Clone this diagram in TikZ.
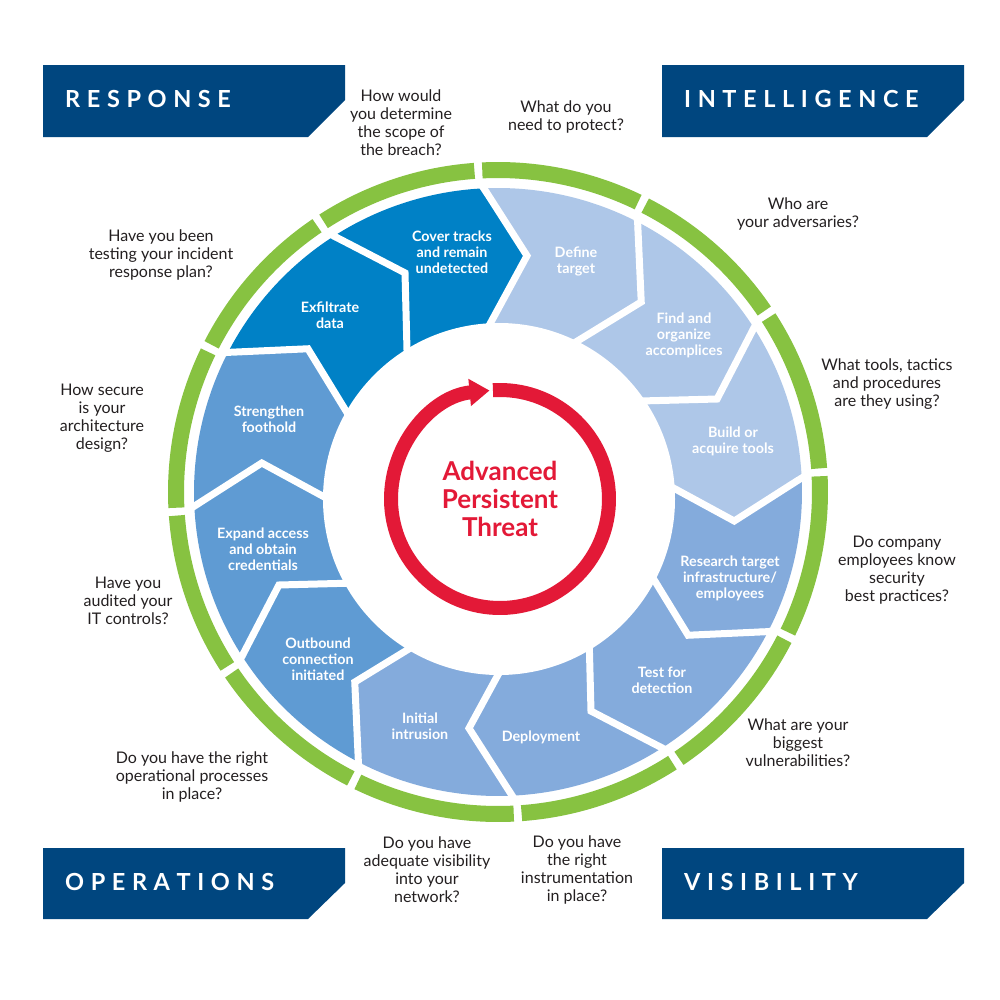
\documentclass[tikz,border=0pt]{standalone}
\usepackage{fontspec}
\setmainfont{Lato}
\usetikzlibrary{arrows.meta}
\definecolor{segA}{HTML}{AEC7E8}
\definecolor{segB}{HTML}{84ABDC}
\definecolor{segC}{HTML}{5F9BD3}
\definecolor{segD}{HTML}{0081C6}
\definecolor{ringgreen}{HTML}{87C241}
\definecolor{aptred}{HTML}{E31937}
\definecolor{bannerblue}{HTML}{00467F}
\definecolor{qgray}{HTML}{231F20}
\newcommand\K{\kern6.6bp}
\begin{document}
\begin{tikzpicture}[x=1bp,y=-1bp,
  q/.style={align=center, text=qgray, font=\fontsize{16bp}{18bp}\selectfont, inner sep=0pt},
  seglab/.style={align=center, text=white, font=\bfseries\fontsize{14.3bp}{16bp}\selectfont, inner sep=0pt},
  bannerbox/.style={fill=bannerblue},
  bantext/.style={anchor=base west, text=white, font=\bfseries\fontsize{23.5bp}{26bp}\selectfont, inner sep=0pt},
  centertext/.style={align=center, text=aptred, font=\bfseries\fontsize{26bp}{28bp}\selectfont, inner sep=0pt}]
\useasboundingbox (0,0) rectangle (1000,1000);
\fill[white] (0,0) rectangle (1000,1000);

% segments
\begin{scope}[shift={(498,492)}]
\foreach \k/\c in {0/segA,1/segA,2/segA,3/segB,4/segB,5/segB,6/segB,7/segC,8/segC,9/segC,10/segD,11/segD}{
  \pgfmathsetmacro\angA{-3.5+30*\k-90}
  \pgfmathsetmacro\angB{\angA+30}
  \fill[\c] (\angA:304) arc[start angle=\angA, end angle=\angB, radius=304]
    -- (\angB+10.5:238) -- (\angB-5:151)
    arc[start angle=\angB-5, end angle=\angA-5, radius=151]
    -- (\angA+10.5:238) -- cycle;
}
\foreach \k in {0,...,11}{
  \pgfmathsetmacro\angA{-3.5+30*\k-90}
  \draw[white, line width=7bp, line join=miter] (\angA:312) -- (\angA+10.5:238) -- (\angA-5:145);
}
\foreach \k in {0,...,11}{
  \pgfmathsetmacro\angA{-3.5+30*\k-90+0.7}
  \pgfmathsetmacro\angB{-3.5+30*\k-90+30-0.7}
  \draw[ringgreen, line width=16bp] (\angA:322) arc[start angle=\angA, end angle=\angB, radius=322];
}
\end{scope}

% inner white disc
\fill[white] (499,499) circle[radius=176];

% red circular arrow
\begin{scope}[shift={(500,499)}]
\draw[aptred, line width=14bp, -{Triangle[length=20bp,width=26bp]}]
  (-93.7:109) arc[start angle=-93.7, end angle=264.5, radius=109];
\end{scope}
\node[centertext] (apt) at (500,499) {Advanced\\Persistent\\Threat};

% segment labels
\node[seglab] (s1) at (576,261) {Define\\target};
\node[seglab] (s2) at (684,335) {Find and\\organize\\accomplices};
\node[seglab] (s3) at (733,441) {Build or\\acquire tools};
\node[seglab] (s4) at (730,578) {Research target\\infrastructure/\\employees};
\node[seglab] (s5) at (662,680) {Test for\\detection};
\node[seglab] (s6) at (541,737) {Deployment};
\node[seglab] (s7) at (420,726) {Initial\\intrusion};
\node[seglab] (s8) at (318,659) {Outbound\\connection\\initiated};
\node[seglab] (s9) at (263,549) {Expand access\\and obtain\\credentials};
\node[seglab] (s10) at (269,419) {Strengthen\\foothold};
\node[seglab] (s11) at (330,315) {Exfiltrate\\data};
\node[seglab] (s12) at (452,252) {Cover tracks\\and remain\\undetected};

% questions
\node[q] (q1) at (401,123) {How would\\you determine\\the scope of\\the breach?};
\node[q] (q2) at (566,117) {What do you\\need to protect?};
\node[q] (q3) at (798,214) {Who are\\your adversaries?};
\node[q] (q4) at (887,384) {What tools, tactics\\and procedures\\are they using?};
\node[q] (q5) at (897,570) {Do company\\employees know\\security\\best practices?};
\node[q] (q6) at (798,743) {What are your\\biggest\\vulnerabilities?};
\node[q] (q7) at (577,870) {Do you have\\the right\\instrumentation\\in place?};
\node[q] (q8) at (427,870) {Do you have\\adequate visibility\\into your\\network?};
\node[q] (q9) at (192,777) {Do you have the right\\operational processes\\in place?};
\node[q] (q10) at (128,601) {Have you\\audited your\\IT controls?};
\node[q] (q11) at (102,418) {How secure\\is your\\architecture\\design?};
\node[q] (q12) at (161,255) {Have you been\\testing your incident\\response plan?};

% banners
\fill[bannerbox] (43,65) -- (345,65) -- (345,100) -- (308,137) -- (43,137) -- cycle;
\fill[bannerbox] (662,65) -- (964,65) -- (964,100) -- (927,137) -- (662,137) -- cycle;
\fill[bannerbox] (43,848) -- (345,848) -- (345,883) -- (308,919) -- (43,919) -- cycle;
\fill[bannerbox] (662,848) -- (964,848) -- (964,883) -- (927,919) -- (662,919) -- cycle;
\node[bantext] (b1) at (65,107) {R\K E\K S\K P\K O\K N\K S\K E};
\node[bantext] (b2) at (684,107) {I\K N\K T\K E\K L\K L\K I\K G\K E\K N\K C\K E};
\node[bantext] (b3) at (65,890) {O\K P\K E\K R\K A\K T\K I\K O\K N\K S};
\node[bantext] (b4) at (684,890) {V\K I\K S\K I\K B\K I\K L\K I\K T\K Y};
\end{tikzpicture}
\end{document}
